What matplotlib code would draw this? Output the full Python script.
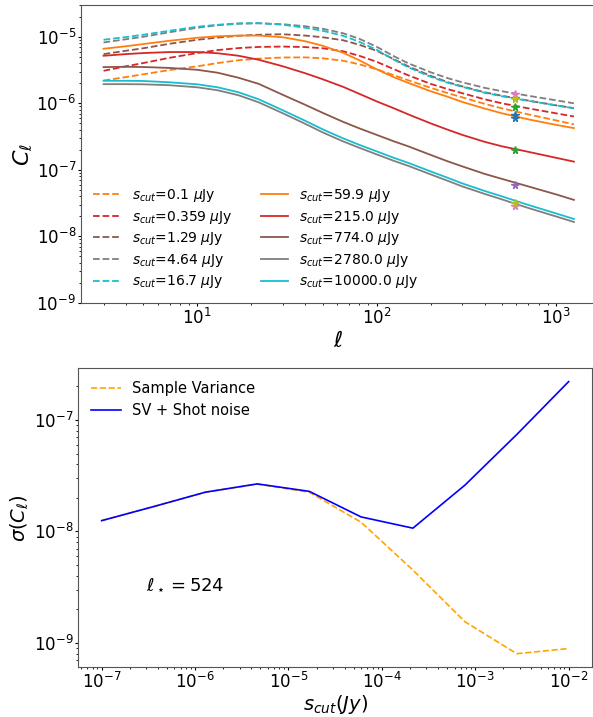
import numpy as np
import matplotlib
matplotlib.use("Agg")
import matplotlib.pyplot as plt

# Flux cuts in micro-Jansky
scut_uJy = [0.1, 0.359, 1.29, 4.64, 16.7, 59.9, 215.0, 774.0, 2780.0, 10000.0]

# Multipoles at which the angular power spectra are tabulated
ell = [3, 4, 5, 7, 10, 13, 17, 22, 30, 40, 50, 65, 80, 100, 125, 150, 200, 250,
       300, 400, 500, 700, 1000, 1260]

# C_ell for each flux cut
cl_0p1 = [2.20e-6, 2.48e-6, 2.73e-6, 3.16e-6, 3.60e-6, 4.03e-6, 4.44e-6, 4.70e-6,
          4.88e-6, 4.90e-6, 4.75e-6, 4.36e-6, 3.86e-6, 3.25e-6, 2.64e-6, 2.22e-6,
          1.71e-6, 1.42e-6, 1.23e-6, 9.83e-7, 8.41e-7, 6.83e-7, 5.55e-7, 4.83e-7]
cl_0p359 = [3.08e-6, 3.60e-6, 4.03e-6, 4.83e-6, 5.69e-6, 6.31e-6, 6.76e-6, 7.03e-6,
            7.12e-6, 7.00e-6, 6.72e-6, 6.06e-6, 5.18e-6, 4.21e-6, 3.25e-6, 2.64e-6,
            1.96e-6, 1.63e-6, 1.42e-6, 1.15e-6, 1.00e-6, 8.41e-7, 7.08e-7, 6.34e-7]
cl_1p29 = [5.49e-6, 6.16e-6, 6.72e-6, 7.85e-6, 9.01e-6, 9.73e-6, 1.035e-5, 1.072e-5,
           1.091e-5, 1.042e-5, 9.83e-6, 8.86e-6, 7.58e-6, 6.16e-6, 4.59e-6, 3.60e-6,
           2.59e-6, 2.07e-6, 1.80e-6, 1.465e-6, 1.30e-6, 1.10e-6, 9.33e-7, 8.47e-7]
cl_4p64 = [8.21e-6, 9.17e-6, 1.00e-5, 1.169e-5, 1.366e-5, 1.49e-5, 1.569e-5, 1.59e-5,
           1.542e-5, 1.439e-5, 1.319e-5, 1.13e-5, 9.33e-6, 7.08e-6, 5.09e-6, 4.00e-6,
           2.93e-6, 2.38e-6, 2.07e-6, 1.71e-6, 1.52e-6, 1.30e-6, 1.11e-6, 1.00e-6]
cl_16p7 = [9.01e-6, 9.90e-6, 1.072e-5, 1.231e-5, 1.414e-5, 1.515e-5, 1.59e-5, 1.608e-5,
           1.515e-5, 1.366e-5, 1.231e-5, 1.035e-5, 8.41e-6, 6.38e-6, 4.51e-6, 3.48e-6,
           2.50e-6, 2.03e-6, 1.77e-6, 1.44e-6, 1.275e-6, 1.09e-6, 9.33e-7, 8.41e-7]
cl_59p9 = [6.60e-6, 7.20e-6, 7.77e-6, 8.71e-6, 9.66e-6, 1.017e-5, 1.042e-5, 1.042e-5,
           9.83e-6, 8.56e-6, 7.32e-6, 5.75e-6, 4.44e-6, 3.25e-6, 2.46e-6, 2.03e-6,
           1.52e-6, 1.25e-6, 1.05e-6, 8.35e-7, 7.08e-7, 5.75e-7, 4.75e-7, 4.24e-7]
cl_215 = [5.18e-6, 5.49e-6, 5.69e-6, 5.89e-6, 5.89e-6, 5.65e-6, 5.18e-6, 4.51e-6,
          3.60e-6, 2.83e-6, 2.30e-6, 1.77e-6, 1.39e-6, 1.07e-6, 8.41e-7, 6.83e-7,
          5.00e-7, 4.00e-7, 3.36e-7, 2.64e-7, 2.26e-7, 1.87e-7, 1.52e-7, 1.33e-7]
cl_774 = [3.50e-6, 3.54e-6, 3.51e-6, 3.40e-6, 3.19e-6, 2.88e-6, 2.42e-6, 1.96e-6,
          1.34e-6, 9.49e-7, 7.20e-7, 5.27e-7, 4.21e-7, 3.36e-7, 2.68e-7, 2.26e-7,
          1.68e-7, 1.34e-7, 1.13e-7, 8.71e-8, 7.32e-8, 5.65e-8, 4.29e-8, 3.54e-8]
cl_2780 = [1.94e-6, 1.94e-6, 1.93e-6, 1.87e-6, 1.74e-6, 1.57e-6, 1.32e-6, 1.035e-6,
           7.08e-7, 4.92e-7, 3.66e-7, 2.68e-7, 2.15e-7, 1.71e-7, 1.365e-7, 1.15e-7,
           8.56e-8, 6.83e-8, 5.65e-8, 4.36e-8, 3.60e-8, 2.68e-8, 2.00e-8, 1.65e-8]
cl_10000 = [2.18e-6, 2.18e-6, 2.165e-6, 2.07e-6, 1.93e-6, 1.74e-6, 1.465e-6, 1.15e-6,
            7.85e-7, 5.46e-7, 4.07e-7, 2.98e-7, 2.38e-7, 1.90e-7, 1.515e-7, 1.275e-7,
            9.49e-8, 7.58e-8, 6.27e-8, 4.83e-8, 4.00e-8, 2.98e-8, 2.22e-8, 1.83e-8]

# Values picked out at the reference multipole
ell_star_mark = 590
cl_star = [6.70e-7, 8.77e-7, 1.19e-6, 1.39e-6, 1.17e-6,
           5.99e-7, 2.00e-7, 5.95e-8, 2.88e-8, 3.16e-8]

# Errors on C_ell at ell_star versus flux cut
sigma_sv = [1.25e-8, 1.67e-8, 2.25e-8, 2.66e-8, 2.25e-8, 1.21e-8, 4.5e-9, 1.55e-9, 8.0e-10, 8.9e-10]
sigma_sv_shot = [1.25e-8, 1.67e-8, 2.25e-8, 2.67e-8, 2.29e-8, 1.35e-8, 1.07e-8, 2.6e-8, 7.4e-8, 2.21e-7]
ell_star_text = 524

curves = [cl_0p1, cl_0p359, cl_1p29, cl_4p64, cl_16p7,
          cl_59p9, cl_215, cl_774, cl_2780, cl_10000]
pair_colors = ["C1", "C3", "C5", "C7", "C9"]

fig = plt.figure(figsize=(5.93, 7.17), dpi=100)
W, H = 593.0, 717.0
ax1 = fig.add_axes([80.7 / W, 1 - 303 / H, (596 - 80.7) / W, (303 - 5) / H])
ax2 = fig.add_axes([78.3 / W, 1 - 667.3 / H, (592 - 78.3) / W, (667.3 - 368) / H])

for i, (s, cl) in enumerate(zip(scut_uJy, curves)):
    ls = "--" if i < 5 else "-"
    ax1.loglog(ell, cl, ls, color=pair_colors[i % 5], lw=1.3,
               label=r"$s_{cut}$=" + str(s) + r" $\mu$Jy")
for i in range(5):
    for j in (i, i + 5):
        ax1.plot(ell_star_mark, cl_star[j], "*", color=f"C{2 * i}", ms=5.5)

ax1.set_xlim(2.237, 1673)
ax1.set_ylim(1e-9, 3e-5)
ax1.set_xlabel(r"$\ell$", fontsize=16, labelpad=2)
ax1.set_ylabel(r"$C_\ell$", fontsize=16, labelpad=2)
ax1.legend(loc="lower left", ncol=2, frameon=False, fontsize=10, labelspacing=0.33)

scut_jy = np.array(scut_uJy) * 1e-6
ax2.loglog(scut_jy, sigma_sv, "--", color="orange", lw=1.2, label="Sample Variance")
ax2.loglog(scut_jy, sigma_sv_shot, "-", color="b", lw=1.2, label="SV + Shot noise")
ax2.set_xlabel(r"$s_{cut}(Jy)$", fontsize=14, labelpad=1)
ax2.set_ylabel(r"$\sigma(C_\ell)$", fontsize=14, labelpad=2)
ax2.legend(loc="upper left", frameon=False, fontsize=10.5)
ax2.text(3e-7, 3.3e-9, r"$\ell_\star = $" + str(ell_star_text), fontsize=13, va="center")

for ax in (ax1, ax2):
    ax.tick_params(which="major", labelsize=12, length=2.5, pad=0.8)
    ax.tick_params(which="minor", length=1.6)
    for sp in ax.spines.values():
        sp.set_color("#555555")

fig.savefig("out.png", dpi=100)
